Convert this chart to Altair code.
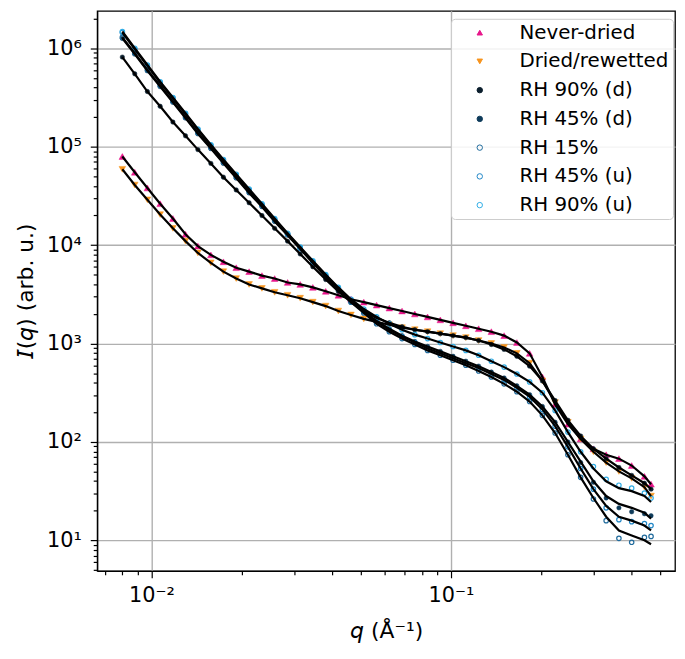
import altair as alt
import pandas as pd

# q values (Å^-1) at which the curves were read
q = [0.0080, 0.0088, 0.0097, 0.0107, 0.0118, 0.0130, 0.0143, 0.0158, 0.0174, 0.0192,
     0.0212, 0.0234, 0.0258, 0.0285, 0.0314, 0.0346, 0.0382, 0.0421, 0.0464, 0.0512,
     0.0565, 0.0623, 0.0687, 0.0758, 0.0836, 0.0922, 0.1017, 0.1122, 0.1238, 0.1365,
     0.1506, 0.1661, 0.1832, 0.2021, 0.2229, 0.2459, 0.2712, 0.2992, 0.3300, 0.3640,
     0.4015, 0.4429, 0.4660]

# log10 I(q) (data markers)
never_dried = [4.90, 4.74, 4.58, 4.42, 4.27, 4.11, 3.99, 3.90, 3.83, 3.77,
               3.73, 3.69, 3.66, 3.62, 3.60, 3.57, 3.53, 3.49, 3.45, 3.42,
               3.39, 3.36, 3.33, 3.30, 3.27, 3.24, 3.21, 3.18, 3.15, 3.12,
               3.08, 3.01, 2.90, 2.66, 2.38, 2.18, 2.03, 1.93, 1.87, 1.83,
               1.76, 1.65, 1.57]
dried_rewetted = [4.77, 4.61, 4.46, 4.31, 4.17, 4.04, 3.92, 3.82, 3.73, 3.66,
                  3.60, 3.56, 3.52, 3.49, 3.46, 3.42, 3.38, 3.33, 3.29, 3.25,
                  3.22, 3.19, 3.16, 3.14, 3.12, 3.10, 3.08, 3.06, 3.03, 3.00,
                  2.96, 2.90, 2.80, 2.62, 2.40, 2.20, 2.03, 1.90, 1.79, 1.70,
                  1.63, 1.54, 1.45]
rh90_d = [5.91, 5.74, 5.56, 5.41, 5.25, 5.11, 4.97, 4.83, 4.69, 4.56,
          4.43, 4.30, 4.17, 4.04, 3.91, 3.78, 3.65, 3.53, 3.42, 3.33,
          3.26, 3.21, 3.17, 3.14, 3.12, 3.10, 3.08, 3.06, 3.03, 2.99,
          2.94, 2.87, 2.77, 2.62, 2.42, 2.22, 2.06, 1.93, 1.83, 1.74,
          1.66, 1.58, 1.52]
rh45_d = [6.10, 5.94, 5.77, 5.61, 5.45, 5.29, 5.13, 4.98, 4.83, 4.68,
          4.53, 4.39, 4.24, 4.10, 3.96, 3.82, 3.68, 3.55, 3.43, 3.32,
          3.23, 3.15, 3.08, 3.02, 2.97, 2.92, 2.87, 2.82, 2.77, 2.71,
          2.65, 2.57, 2.48, 2.36, 2.20, 2.00, 1.79, 1.59, 1.43, 1.33,
          1.29, 1.27, 1.25]
rh15 = [6.11, 5.95, 5.78, 5.62, 5.46, 5.30, 5.14, 4.99, 4.84, 4.69,
        4.54, 4.40, 4.25, 4.11, 3.97, 3.82, 3.68, 3.55, 3.42, 3.31,
        3.20, 3.12, 3.05, 2.99, 2.93, 2.88, 2.83, 2.78, 2.72, 2.66,
        2.59, 2.51, 2.41, 2.27, 2.09, 1.87, 1.64, 1.42, 1.20, 1.02,
        0.98, 1.03, 1.04]
rh45_u = [6.16, 5.99, 5.82, 5.65, 5.49, 5.33, 5.17, 5.01, 4.86, 4.71,
          4.56, 4.41, 4.26, 4.11, 3.97, 3.83, 3.69, 3.56, 3.44, 3.33,
          3.22, 3.14, 3.07, 3.01, 2.95, 2.90, 2.85, 2.80, 2.75, 2.69,
          2.63, 2.55, 2.46, 2.33, 2.16, 1.95, 1.73, 1.52, 1.33, 1.21,
          1.19, 1.17, 1.15]
rh90_u = [6.17, 6.00, 5.83, 5.66, 5.50, 5.34, 5.18, 5.02, 4.87, 4.72,
          4.57, 4.42, 4.27, 4.12, 3.98, 3.84, 3.70, 3.57, 3.45, 3.35,
          3.27, 3.20, 3.14, 3.09, 3.05, 3.01, 2.97, 2.93, 2.88, 2.82,
          2.76, 2.69, 2.61, 2.50, 2.32, 2.10, 1.90, 1.75, 1.62, 1.56,
          1.53, 1.48, 1.43]

# log10 of the black fit curves (differ from data only at high q)
fit_never_dried = never_dried
fit_dried_rewetted = dried_rewetted
fit_rh90_d = rh90_d
fit_rh45_d = rh45_d[:36] + [1.80, 1.60, 1.45, 1.37, 1.33, 1.28, 1.22]
fit_rh15 = rh15[:36] + [1.64, 1.43, 1.24, 1.10, 1.05, 1.00, 0.96]
fit_rh45_u = rh45_u[:36] + [1.73, 1.52, 1.35, 1.24, 1.20, 1.15, 1.10]
fit_rh90_u = rh90_u[:36] + [1.90, 1.73, 1.60, 1.53, 1.50, 1.45, 1.39]

series = ["Never-dried", "Dried/rewetted", "RH 90% (d)", "RH 45% (d)",
          "RH 15%", "RH 45% (u)", "RH 90% (u)"]
data_lists = [never_dried, dried_rewetted, rh90_d, rh45_d, rh15, rh45_u, rh90_u]
fit_lists = [fit_never_dried, fit_dried_rewetted, fit_rh90_d, fit_rh45_d,
             fit_rh15, fit_rh45_u, fit_rh90_u]

stroke_colors = ["#e8168b", "#f7941d", "#0b1e2d", "#0e3b5a", "#1f6a9c", "#1f86c6", "#30ade6"]
fill_colors = ["#e8168b", "#f7941d", "#0b1e2d", "#0e3b5a", "transparent", "transparent", "transparent"]
shapes = ["triangle-up", "triangle-down", "circle", "circle", "circle", "circle", "circle"]

x_ticks = [0.007, 0.008, 0.009, 0.01, 0.02, 0.03, 0.04, 0.05, 0.06, 0.07, 0.08, 0.09,
           0.1, 0.2, 0.3, 0.4, 0.5]
y_ticks = [5, 6, 7, 8, 9]
for dec in [10, 100, 1000, 10000, 100000, 1000000]:
    y_ticks += [dec * k for k in range(1, 10)]
y_ticks = [v for v in y_ticks if v <= 2000000]

rows = []
for name, vals in zip(series, data_lists):
    for qq, v in zip(q, vals):
        rows.append({"q": qq, "I": 10 ** v, "series": name})
df = pd.DataFrame(rows)

frows = []
for name, vals in zip(series, fit_lists):
    for qq, v in zip(q, vals):
        frows.append({"q": qq, "I": 10 ** v, "series": name})
dfit = pd.DataFrame(frows)

is_decade = "abs(log(datum.value)/LN10 - round(log(datum.value)/LN10)) < 0.001"

xscale = alt.Scale(type="log", domain=[0.006594, 0.5603], nice=False)
yscale = alt.Scale(type="log", domain=[4.898, 2.398e6], nice=False)

xaxis = alt.Axis(
    values=x_ticks,
    labelExpr="datum.value == 0.01 ? '10⁻²' : (datum.value == 0.1 ? '10⁻¹' : '')",
    title="𝘲 (Å⁻¹)",
    tickSize={"condition": {"test": is_decade, "value": 7}, "value": 4},
    gridOpacity={"condition": {"test": is_decade, "value": 1}, "value": 0},
    labelPadding=7,
    titlePadding=15,
)
yaxis = alt.Axis(
    values=y_ticks,
    labelExpr=("datum.value == 10 ? '10¹' : datum.value == 100 ? '10²' : "
               "datum.value == 1000 ? '10³' : datum.value == 10000 ? '10⁴' : "
               "datum.value == 100000 ? '10⁵' : datum.value == 1000000 ? '10⁶' : ''"),
    title="𝘐(𝘲) (arb. u.)",
    tickSize={"condition": {"test": is_decade, "value": 7}, "value": 4},
    gridOpacity={"condition": {"test": is_decade, "value": 1}, "value": 0},
    labelPadding=9,
    titlePadding=9,
)

leg = alt.Legend(
    title=None, orient="none", legendX=357, legendY=8,
    fillColor="rgba(255,255,255,0.85)", strokeColor="#cccccc", cornerRadius=4, padding=4,
    labelFont="DejaVu Sans", labelFontSize=20, labelColor="black", labelLimit=0,
    symbolSize=30, symbolStrokeWidth=1, symbolOpacity=1,
    rowPadding=9, labelOffset=30, symbolOffset=15,
)

X = alt.X("q:Q", scale=xscale, axis=xaxis)
Y = alt.Y("I:Q", scale=yscale, axis=yaxis)
enc = dict(
    x=X, y=Y,
    stroke=alt.Stroke("series:N", scale=alt.Scale(domain=series, range=stroke_colors), legend=leg),
    fill=alt.Fill("series:N", scale=alt.Scale(domain=series, range=fill_colors), legend=leg),
    shape=alt.Shape("series:N", scale=alt.Scale(domain=series, range=shapes), legend=leg),
)

base = alt.Chart(df)
tri = base.transform_filter(
    alt.FieldOneOfPredicate(field="series", oneOf=series[:2])
).mark_point(size=45, strokeWidth=0.5, opacity=1).encode(**enc)
dots = base.transform_filter(
    alt.FieldOneOfPredicate(field="series", oneOf=series[2:4])
).mark_point(size=20, strokeWidth=0.5, opacity=1).encode(**enc)
opens = base.transform_filter(
    alt.FieldOneOfPredicate(field="series", oneOf=series[4:])
).mark_point(size=20, strokeWidth=1.2, opacity=1).encode(**enc)

fits = alt.Chart(dfit).mark_line(color="black", strokeWidth=2.2).encode(
    x=X, y=Y, detail="series:N"
)

chart = alt.layer(tri, dots, opens, fits).properties(
    width=583, height=565,
    padding={"left": 90, "top": 0, "right": 2, "bottom": 78},
    autosize=alt.AutoSizeParams(type="none"),
).configure_view(
    stroke="black", strokeWidth=1.3
).configure_axis(
    labelFont="DejaVu Sans", labelFontSize=21, labelColor="black",
    titleFont="DejaVu Sans", titleFontSize=22, titleFontWeight="normal", titleColor="black",
    domainColor="black", domainWidth=1.3, tickColor="black", tickWidth=1.2,
    gridColor="#b0b0b0", gridWidth=1.4,
)

chart.save("out.html", embed_options={"renderer": "svg", "actions": False})
